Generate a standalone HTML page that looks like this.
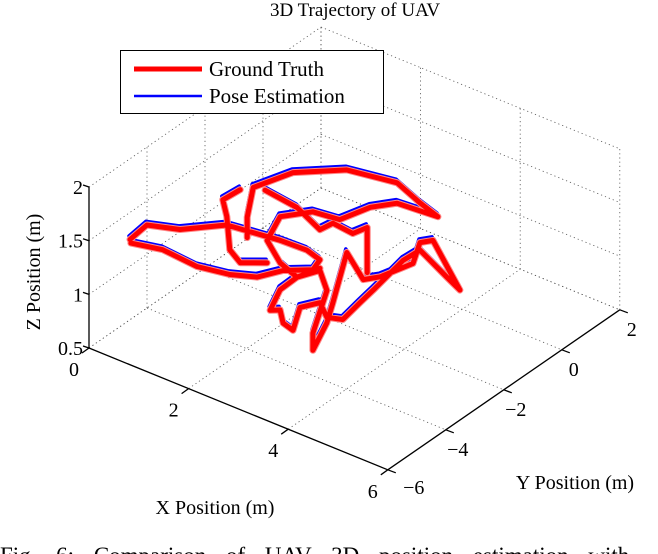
<!DOCTYPE html>
<html><head><meta charset="utf-8"><style>
body{margin:0;background:#fff;width:658px;height:554px;overflow:hidden}
svg{display:block}
text{font-family:"Liberation Serif",serif;fill:#000}
</style></head><body>
<svg id="chart" width="658" height="554" viewBox="0 0 658 554">
<text x="355" y="16" font-size="19" text-anchor="middle">3D Trajectory of UAV</text>
<g id="grid"></g>
<g id="axes"></g>
<g id="series"></g>
<g>
<rect x="120.5" y="50.5" width="263" height="63" fill="#fff" stroke="#000" stroke-width="1"/>
<line x1="134" y1="69" x2="202" y2="69" stroke="#f00" stroke-width="5"/>
<text x="209" y="76" font-size="21">Ground Truth</text>
<line x1="134" y1="96" x2="202" y2="96" stroke="#00f" stroke-width="2.5"/>
<text x="209" y="103" font-size="21">Pose Estimation</text>
</g>
<text x="215" y="514" font-size="20" text-anchor="middle">X Position (m)</text>
<text x="575" y="489" font-size="20" text-anchor="middle">Y Position (m)</text>
<text transform="translate(40,272) rotate(-90)" font-size="20" text-anchor="middle">Z Position (m)</text>
<text x="0" y="563" font-size="23" word-spacing="14">Fig. 6: Comparison of UAV 3D position estimation with</text>
</svg>
<script>
const xTicks=[0,2,4,6];
const yTicks=[-6,-4,-2,0,2];
const zTicks=[0.5,1,1.5,2];
const xTickLabels=["0","2","4","6"];
const yTickLabels=["\u22126","\u22124","\u22122","0","2"];
const zTickLabels=["0.5","1","1.5","2"];
// ground-truth trajectory (meters); segId separates pen-up segments
const segId=[0,0,0,0,0,0,0,0,0,0,0,0,0,0,0,
 1,1,1,1,1,1,1,1,1,1,1,1,1,1,1,1,1,1,1,1,1,1,1,1,1,1,1,1,1,1,1,1,1,1,1,1,1,1,1,1,1,1,1,1,1,1,
 2,2,2,2,2,2,
 3,3,3,3,3,3,3,3];
const gtX=[0.24,0.58,0.08,1.02,1.55,2.09,2.63,2.89,2.75,2.15,1.63,1.08,0.42,0.90,0.26,
 1.43,1.43,1.55,2.35,3.43,4.44,4.90,5.26,4.44,3.90,3.29,2.75,2.09,1.83,2.09,2.43,2.89,3.03,2.75,2.75,3.03,3.15,3.43,3.76,4.10,4.76,4.90,5.16,5.70,5.44,4.90,4.56,4.36,3.96,3.69,3.35,3.03,2.89,2.49,2.35,2.15,2.09,1.89,2.09,2.43,2.89,
 1.29,0.94,1.02,1.08,1.29,1.83,
 1.79,2.43,2.89,3.15,3.55,3.84,3.84,3.84];
const gtY=[-5,-5,-3,-3,-3,-3,-3,-3,-3,-3,-3,-3,-3,-5,-5,
 -3,-3,-3,-3,-3,-3,-3,-3,-3,-3,-3,-3,-3,-3,-3,-3,-3,-3,-3,-3,-3,-3,-3,-3,-3,-3,-3,-3,-3,-3,-3,-3,-3,-3,-3,-3,-3,-3,-3,-3,-3,-3,-3,-3,-3,-3,
 -3,-3,-3,-3,-3,-3,
 -3,-3,-3,-3,-3,-3,-3,-3];
const gtZ=[1.37,1.57,1.06,1.28,1.31,1.34,1.35,1.31,1.19,1.07,0.91,0.83,0.78,1.40,1.34,
 1.24,1.43,1.73,2.02,2.25,2.32,2.22,2.16,2.13,1.99,1.76,1.73,1.56,1.29,1.13,1.06,1.21,1.05,0.60,0.44,0.75,0.96,1.48,1.29,1.38,1.63,1.85,1.92,1.56,1.63,1.78,1.62,1.49,1.23,1.06,0.84,0.80,0.91,0.79,0.55,0.58,0.69,0.65,0.88,1.06,1.23,
 1.66,1.50,1.36,1.06,0.98,1.08,
 1.75,1.71,1.59,1.70,1.68,1.79,1.52,1.37];
const estDz=0.03, estDx=-0.02;

function P(x,y,z){return [89+49.8*x+29*(y+6), 348+20.3*x-20*(y+6)-107.3*(z-0.5)];}
const NS="http://www.w3.org/2000/svg";
function mk(tag,attrs,parent){const e=document.createElementNS(NS,tag);for(const k in attrs)e.setAttribute(k,attrs[k]);parent.appendChild(e);return e;}
const grid=document.getElementById('grid'),axes=document.getElementById('axes'),series=document.getElementById('series');
const gs={stroke:"#555","stroke-width":0.8,"stroke-dasharray":"1.2 3",fill:"none"};
function gl(a,b){const p=P(...a),q=P(...b);const l=mk('line',Object.assign({x1:p[0],y1:p[1],x2:q[0],y2:q[1]},gs),grid);

}
const x0=xTicks[0],x1=xTicks[xTicks.length-1],y0=yTicks[0],y1=yTicks[yTicks.length-1],z0=zTicks[0],z1=zTicks[zTicks.length-1];
xTicks.forEach(x=>{gl([x,y0,z0],[x,y1,z0]);gl([x,y1,z0],[x,y1,z1]);});
yTicks.forEach(y=>{gl([x0,y,z0],[x1,y,z0]);gl([x0,y,z0],[x0,y,z1]);});
zTicks.forEach(z=>{gl([x0,y0,z],[x0,y1,z]);gl([x0,y1,z],[x1,y1,z]);});
function al(a,b,name){const p=P(...a),q=P(...b);const l=mk('line',{x1:p[0],y1:p[1],x2:q[0],y2:q[1],stroke:"#000","stroke-width":1.3},axes);

}
al([x0,y0,z0],[x0,y0,z1],'z-axis-line');
al([x0,y0,z0],[x1,y0,z0],'x-axis-line');
al([x1,y0,z0],[x1,y1,z0],'y-axis-line');
function txt(s,x,y,anchor,name){const t=mk('text',{x:x,y:y,"font-size":20,"text-anchor":anchor},axes);t.textContent=s;

}
zTicks.forEach((z,i)=>{const p=P(x0,y0,z);mk('line',{x1:p[0]-6,y1:p[1]-2,x2:p[0],y2:p[1],stroke:"#000","stroke-width":1.3},axes);txt(zTickLabels[i],p[0]-6,p[1]+7,'end','z-tick-label');});
xTicks.forEach((x,i)=>{const p=P(x,y0,z0);mk('line',{x1:p[0],y1:p[1],x2:p[0]-7,y2:p[1]+5,stroke:"#000","stroke-width":1.3},axes);txt(xTickLabels[i],p[0]-15,p[1]+28,'middle','x-tick-label');});
yTicks.forEach((y,i)=>{const p=P(x1,y,z0);mk('line',{x1:p[0],y1:p[1],x2:p[0]+8,y2:p[1]+3,stroke:"#000","stroke-width":1.3},axes);txt(yTickLabels[i],p[0]+(i==0?26:12),p[1]+(i==0?24:26),'middle','y-tick-label');});
function path(xs,ys,zs,dx,dz){let d="",prev=-1;for(let i=0;i<xs.length;i++){const p=P(xs[i]+dx,ys[i],zs[i]+dz);d+=(segId[i]!==prev?"M":"L")+p[0].toFixed(1)+","+p[1].toFixed(1);prev=segId[i];}return d;}
const blue=mk('path',{d:path(gtX,gtY,gtZ,estDx,estDz),stroke:"#00f","stroke-width":3.5,fill:"none","stroke-linejoin":"round","stroke-linecap":"round"},series);


const halo=mk('path',{d:path(gtX,gtY,gtZ,0,0),stroke:"#f88","stroke-width":7,fill:"none","stroke-linejoin":"round","stroke-linecap":"round"},series);


const red=mk('path',{d:path(gtX,gtY,gtZ,0,0),stroke:"#f00","stroke-width":5,fill:"none","stroke-linejoin":"round","stroke-linecap":"round"},series);


</script>
</body></html>
